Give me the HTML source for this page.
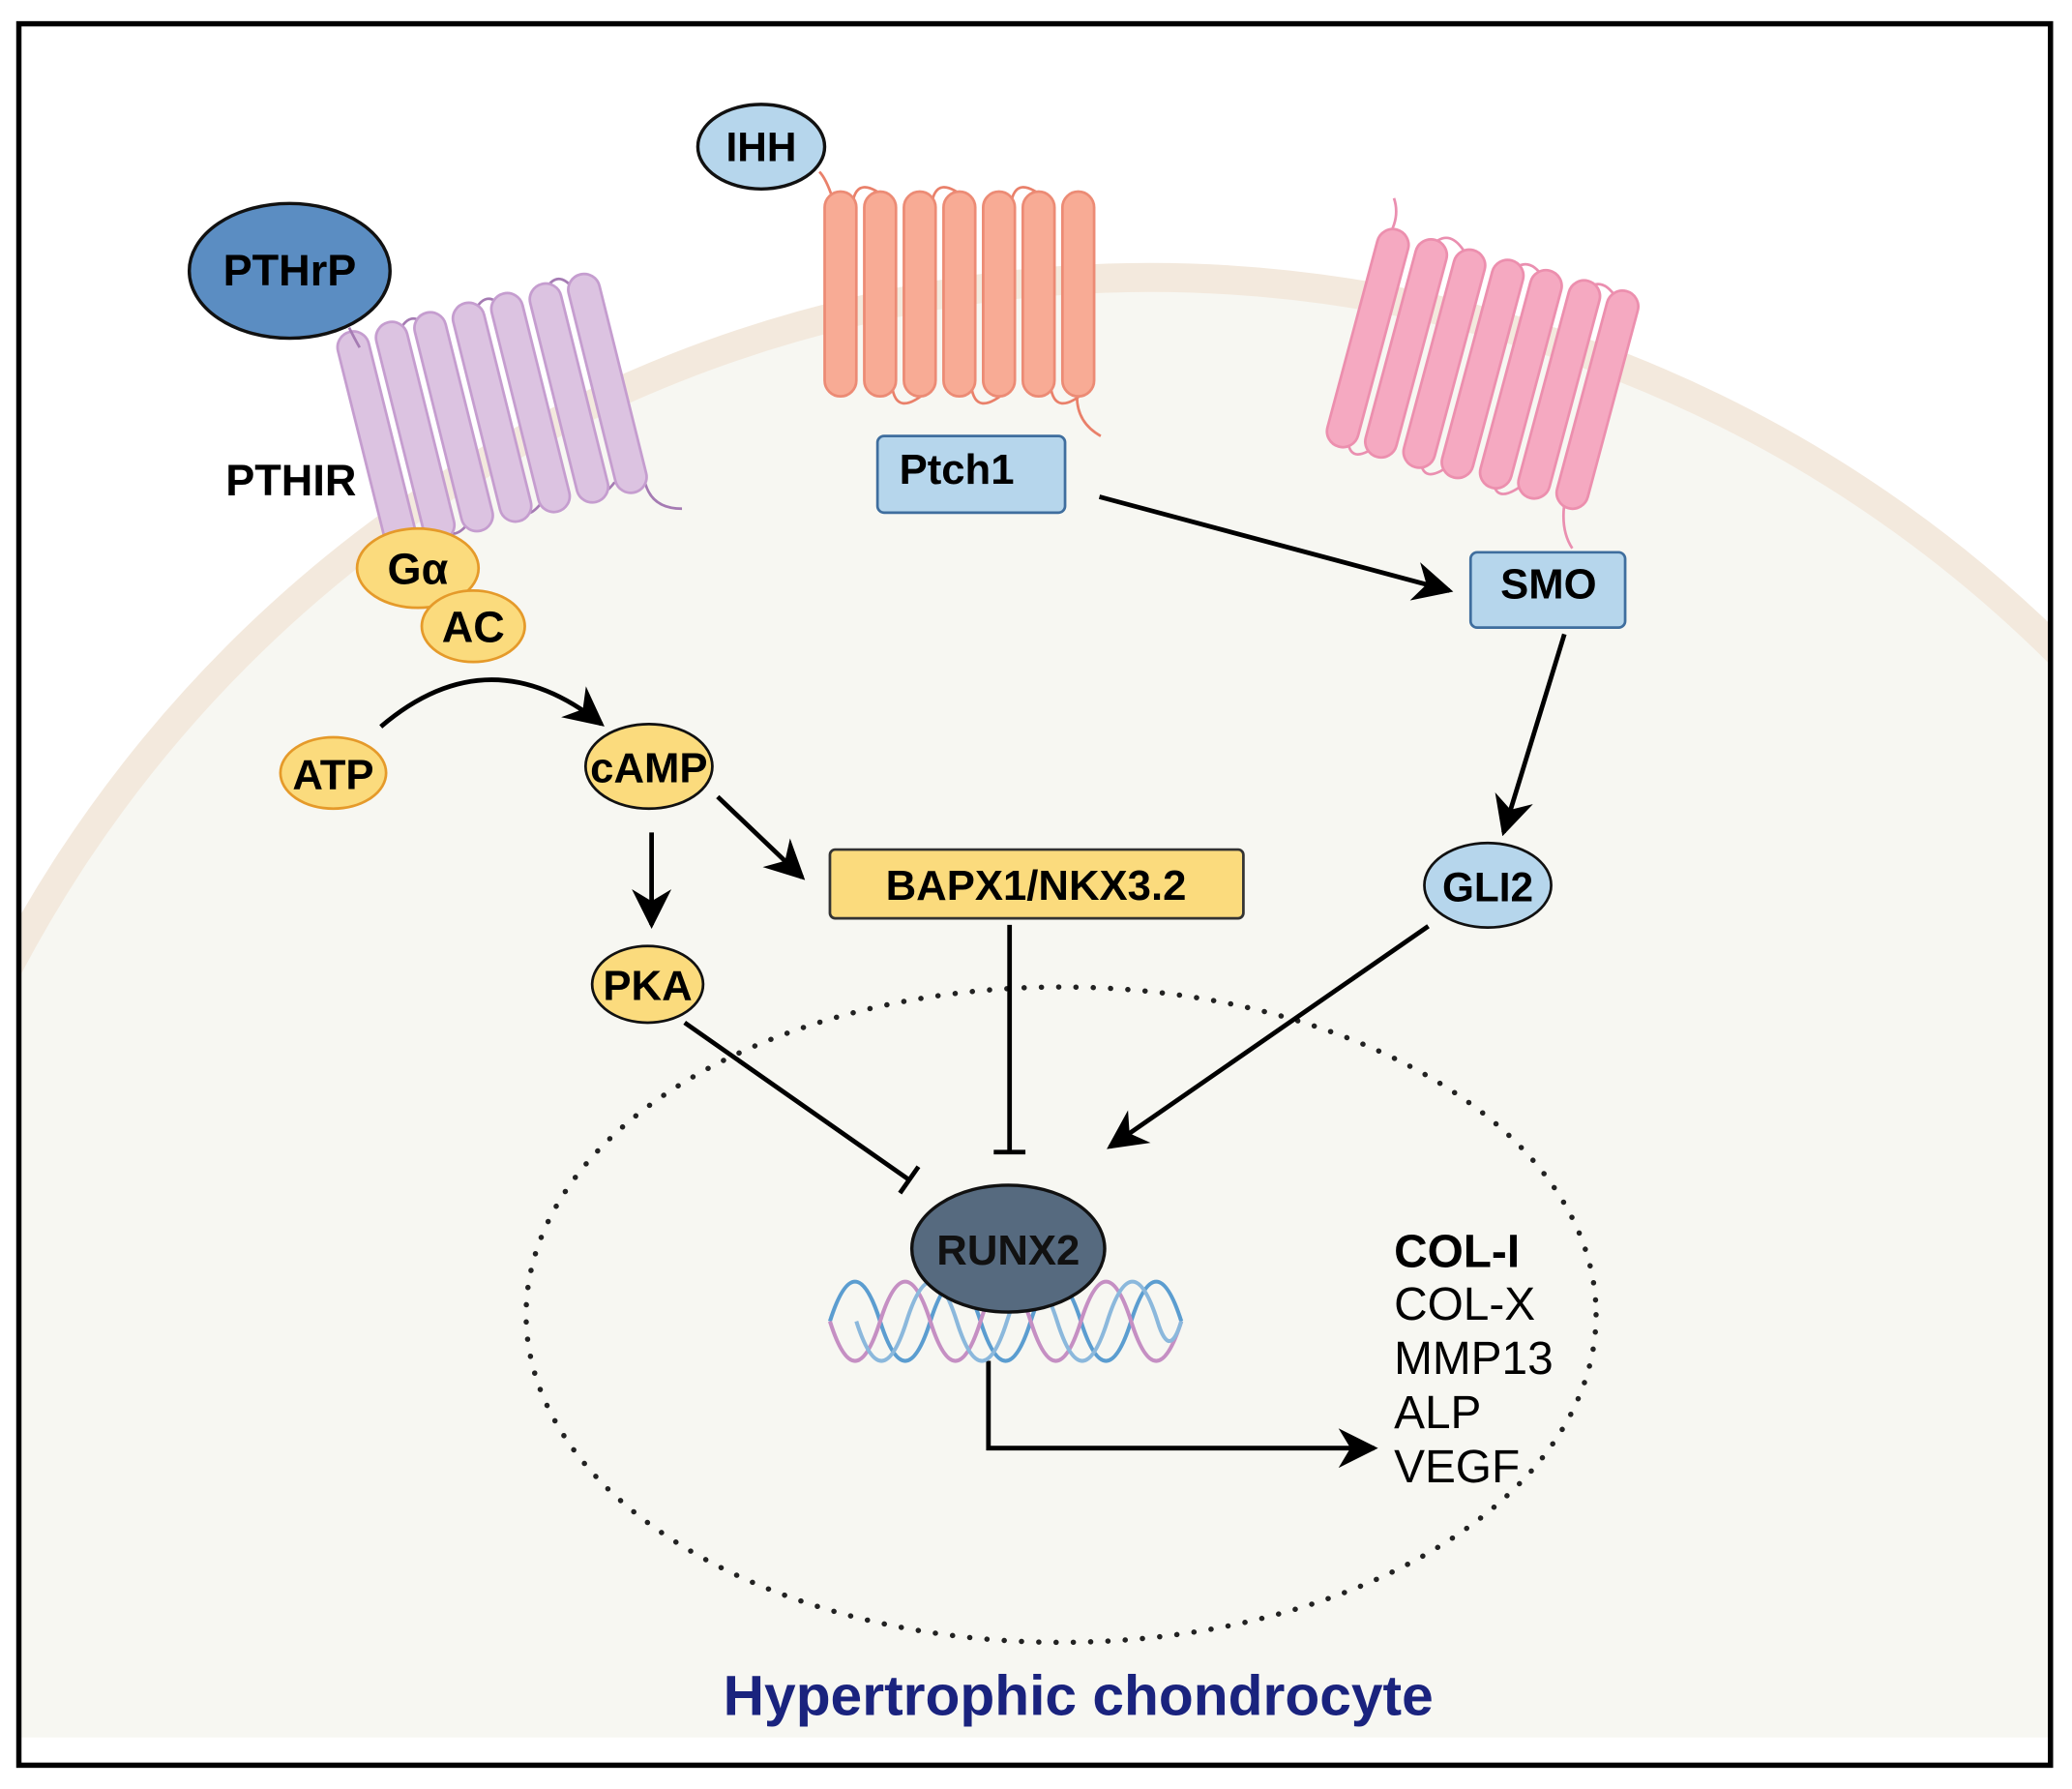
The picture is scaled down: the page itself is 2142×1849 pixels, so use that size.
<!DOCTYPE html>
<html><head><meta charset="utf-8"><style>
html,body{margin:0;padding:0;background:#fff;overflow:hidden;width:2142px;height:1849px;position:relative;}
svg{display:block;position:absolute;left:0;top:0;}
text{font-family:"Liberation Sans",sans-serif;font-weight:bold;}
.n{font-weight:normal;}
</style></head><body>
<svg width="2142" height="1849" viewBox="0 0 1568 1354" xmlns="http://www.w3.org/2000/svg">
<defs>
<clipPath id="cp"><rect x="16" y="20" width="1534" height="1295"/></clipPath>
<marker id="a2" viewBox="0 0 10 10" refX="9" refY="5" markerWidth="30" markerHeight="30" orient="auto" markerUnits="userSpaceOnUse"><path d="M0,0 L10,5 L0,10 L3,5z" fill="#000"/></marker>
</defs>
<rect width="1568" height="1354" fill="#fff"/>
<g clip-path="url(#cp)">
<circle cx="870" cy="1186" r="976" fill="#f7f7f2" stroke="#f3e9dd" stroke-width="22"/>
</g>
<rect x="14" y="18" width="1538" height="1318" fill="none" stroke="#000" stroke-width="4"/>
<ellipse cx="803" cy="995" rx="405" ry="248" fill="none" stroke="#222" stroke-width="4" stroke-dasharray="0.1 13" stroke-linecap="round"/>

<g fill="#dcc3e1" stroke="#c59dcf" stroke-width="2">
<path d="M300,255 q10,-25 25,-5 M357,240 q10,-25 25,-5 M410,225 q10,-25 25,-5 M330,390 q10,25 25,5 M385,375 q10,25 25,5 M440,360 q10,25 25,5 M488,365 q5,20 28,20" fill="none" stroke="#a57bb3"/>
<g transform="rotate(-14 380 310)">
<rect x="270" y="225" width="24" height="170" rx="12"/>
<rect x="300" y="225" width="24" height="170" rx="12"/>
<rect x="330" y="225" width="24" height="170" rx="12"/>
<rect x="360" y="225" width="24" height="170" rx="12"/>
<rect x="390" y="225" width="24" height="170" rx="12"/>
<rect x="420" y="225" width="24" height="170" rx="12"/>
<rect x="450" y="225" width="24" height="170" rx="12"/>
</g></g>
<path d="M264,248 q5,10 8,15" stroke="#a57bb3" stroke-width="2" fill="none"/>
<ellipse cx="219" cy="205" rx="76" ry="51" fill="#5b8dc2" stroke="#111" stroke-width="2.5"/>
<text x="219" y="216" font-size="33" text-anchor="middle">PTHrP</text>
<text x="220" y="375" font-size="33" text-anchor="middle">PTHIR</text>

<g fill="none" stroke="#e9806a" stroke-width="2">
<path d="M620,130 q5,5 10,20 M645,155 q3,-25 28,-3 M705,155 q3,-25 28,-3 M765,155 q3,-25 28,-3 M675,292 q3,25 28,3 M735,292 q3,25 28,3 M795,292 q3,25 28,3 M815,300 q0,20 18,30"/>
</g>
<g fill="#f8ab95" stroke="#ec8b75" stroke-width="2">
<rect x="624" y="145" width="24" height="155" rx="12"/>
<rect x="654" y="145" width="24" height="155" rx="12"/>
<rect x="684" y="145" width="24" height="155" rx="12"/>
<rect x="714" y="145" width="24" height="155" rx="12"/>
<rect x="744" y="145" width="24" height="155" rx="12"/>
<rect x="774" y="145" width="24" height="155" rx="12"/>
<rect x="804" y="145" width="24" height="155" rx="12"/>
</g>
<ellipse cx="576" cy="111" rx="48" ry="32" fill="#b6d6ec" stroke="#111" stroke-width="2.5"/>
<text x="576" y="122" font-size="31" text-anchor="middle">IHH</text>
<rect x="664" y="330" width="142" height="58" rx="5" fill="#b6d6ec" stroke="#3f6e9e" stroke-width="2"/>
<text x="724" y="366" font-size="32" text-anchor="middle">Ptch1</text>

<g fill="none" stroke="#ea8fb0" stroke-width="2">
<path d="M1055,150 q5,15 -5,30 M1080,190 q15,-20 28,0 M1140,210 q15,-20 28,0 M1195,225 q15,-20 28,0 M1020,330 q0,25 25,5 M1075,345 q0,25 25,5 M1130,360 q0,25 25,5 M1185,375 q-5,25 5,40"/>
</g>
<g fill="#f5a9c1" stroke="#ec8fae" stroke-width="2" transform="rotate(15 1125 280)">
<rect x="1020" y="195" width="24" height="170" rx="12"/>
<rect x="1050" y="195" width="24" height="170" rx="12"/>
<rect x="1080" y="195" width="24" height="170" rx="12"/>
<rect x="1110" y="195" width="24" height="170" rx="12"/>
<rect x="1140" y="195" width="24" height="170" rx="12"/>
<rect x="1170" y="195" width="24" height="170" rx="12"/>
<rect x="1200" y="195" width="24" height="170" rx="12"/>
</g>
<rect x="1113" y="418" width="117" height="57" rx="5" fill="#b6d6ec" stroke="#3f6e9e" stroke-width="2"/>
<text x="1172" y="453" font-size="32" text-anchor="middle">SMO</text>

<ellipse cx="316" cy="430" rx="46" ry="30" fill="#fbdb7d" stroke="#e59a2a" stroke-width="2"/>
<text x="316" y="442" font-size="33" text-anchor="middle">Gα</text>
<ellipse cx="358" cy="474" rx="39" ry="27" fill="#fbdb7d" stroke="#e59a2a" stroke-width="2"/>
<text x="358" y="486" font-size="33" text-anchor="middle">AC</text>
<ellipse cx="252" cy="585" rx="40" ry="27" fill="#fbdb7d" stroke="#e59a2a" stroke-width="2"/>
<text x="252" y="597" font-size="32" text-anchor="middle">ATP</text>
<ellipse cx="491" cy="580" rx="48" ry="32" fill="#fbdb7d" stroke="#111" stroke-width="2"/>
<text x="491" y="592" font-size="32" text-anchor="middle">cAMP</text>
<ellipse cx="490" cy="745" rx="42" ry="29" fill="#fbdb7d" stroke="#111" stroke-width="2"/>
<text x="490" y="757" font-size="32" text-anchor="middle">PKA</text>
<rect x="628" y="643" width="313" height="52" rx="4" fill="#fbdb7d" stroke="#333" stroke-width="2"/>
<text x="784" y="681" font-size="32" text-anchor="middle">BAPX1/NKX3.2</text>
<ellipse cx="1126" cy="670" rx="48" ry="32" fill="#b6d6ec" stroke="#111" stroke-width="2"/>
<text x="1126" y="682" font-size="31" text-anchor="middle">GLI2</text>

<g stroke="#000" stroke-width="3.5" fill="none">
<path d="M288,550 Q370,480 455,548" marker-end="url(#a2)"/>
<path d="M493,630 L493,700" marker-end="url(#a2)"/>
<path d="M543,603 L607,664" marker-end="url(#a2)"/>
<path d="M832,376 L1097,447" marker-end="url(#a2)"/>
<path d="M1184,480 L1138,630" marker-end="url(#a2)"/>
<path d="M1081,701 L840,868" marker-end="url(#a2)"/>
<path d="M764,700 L764,872 M752,872 L776,872"/>
<path d="M518,774 L688,893 M681,903 L695,883"/>
<path d="M748,1030 L748,1096 L1040,1096" marker-end="url(#a2)"/>
</g>

<g fill="none" stroke-width="3">
<path d="M628,1000 q19,-60 38,0 t38,0 t38,0 t38,0 t38,0 t38,0 t38,0" stroke="#5b9dd0"/>
<path d="M628,1000 q19,60 38,0 t38,0 t38,0 t38,0 t38,0 t38,0 t38,0" stroke="#c58fc3"/>
<path d="M648,1000 q19,60 38,0 t38,0 t38,0 t38,0 t38,0 t38,0 q9,30 18,0" stroke="#8bb8dc"/>
</g>
<ellipse cx="763" cy="945" rx="73" ry="48" fill="#566a7f" stroke="#111" stroke-width="2.5"/>
<text x="763" y="957" font-size="32" text-anchor="middle" fill="#111">RUNX2</text>

<g font-size="35">
<text x="1055" y="959">COL-I</text>
<text x="1055" y="999" class="n">COL-X</text>
<text x="1055" y="1040" class="n">MMP13</text>
<text x="1055" y="1081" class="n">ALP</text>
<text x="1055" y="1122" class="n">VEGF</text>
</g>
<text x="816" y="1298" font-size="43" text-anchor="middle" fill="#1a237e">Hypertrophic chondrocyte</text>
</svg>
</body></html>
